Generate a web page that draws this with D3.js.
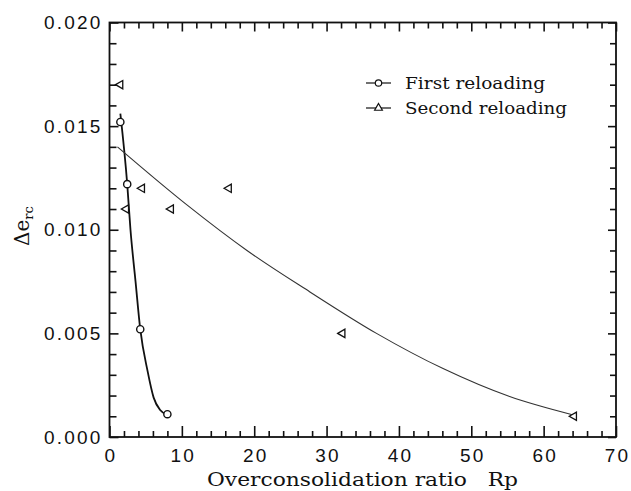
<!DOCTYPE html>
<html>
<head>
<meta charset="utf-8">
<script src="https://cdn.jsdelivr.net/npm/d3@7"></script>
<style>
  html, body { margin: 0; padding: 0; background: #fff; }
  svg { display: block; }
  .tick text { font-family: "Liberation Sans", Arial, sans-serif; font-size: 19px; letter-spacing: 2.2px; fill: #111; }
  .serif { font-family: "DejaVu Serif", "Liberation Serif", serif; fill: #111; white-space: pre; }
</style>
</head>
<body>
<svg id="chart" width="631" height="491"></svg>
<script>
// Measured points, first reloading (circles)
const firstRp = [1.5, 2.45, 4.25, 8.0];
const firstDe = [0.0152, 0.0122, 0.0052, 0.0011];

// Measured points, second reloading (triangles)
const secondRp = [1.5, 2.3, 4.5, 8.5, 16.5, 32.2, 64.2];
const secondDe = [0.0170, 0.0110, 0.0120, 0.0110, 0.0120, 0.0050, 0.0010];

// Fitted trend lines as sampled along the plotted curves
const firstFitRp = [1.5, 2.45, 2.9, 3.6, 4.25, 5.25, 6.1, 7.0, 7.9];
const firstFitDe = [0.0156, 0.0122, 0.0100, 0.0075, 0.0052, 0.0032, 0.0019, 0.0013, 0.00108];
const secondFitRp = [1.1, 10.7, 19.0, 27.7, 36.9, 46.1, 55.3, 64.1];
const secondFitDe = [0.0140, 0.0112, 0.0090, 0.0070, 0.0050, 0.0033, 0.00195, 0.00106];

// Axis ticks
const xMajor = [0, 10, 20, 30, 40, 50, 60, 70];
const yMajor = [0.000, 0.005, 0.010, 0.015, 0.020];
const legendLabels = ["First reloading", "Second reloading"];

const svg = d3.select("#chart");
const m = { left: 109.5, right: 616, top: 22.5, bottom: 437 };

const x = d3.scaleLinear().domain([0, 70]).range([m.left, m.right]);
const y = d3.scaleLinear().domain([0, 0.020]).range([m.bottom, m.top]);

const xMinor = d3.range(0, 70.001, 2);
const yMinor = d3.range(0, 0.02001, 0.001).map(v => +v.toFixed(3));
const isMajorX = v => xMajor.includes(v);
const isMajorY = v => yMajor.some(t => Math.abs(t - v) < 1e-9);

function styleAxis(g, majorTest, minorLen, majorLen, sign) {
  g.select(".domain").remove();
  g.selectAll(".tick line")
    .attr("stroke", "#111")
    .attr("stroke-width", 1.6)
    .each(function(d) {
      const len = (majorTest(d) ? majorLen : minorLen) * sign;
      const el = d3.select(this);
      if (el.attr("y2") !== null) el.attr("y2", len);
      else el.attr("x2", len);
    });
}

// Bottom axis with labels
const gx = svg.append("g").attr("transform", `translate(0,${m.bottom})`)
  .call(d3.axisBottom(x).tickValues(xMinor).tickSize(0).tickPadding(7)
        .tickFormat(d => isMajorX(d) ? d3.format("d")(d) : ""));
gx.selectAll(".tick line").attr("y2", 1);
styleAxis(gx, isMajorX, 6, 11, -1);
gx.selectAll(".tick text").attr("dy", "0.95em").attr("dx", 1);

// Top axis, ticks only
const gxt = svg.append("g").attr("transform", `translate(0,${m.top})`)
  .call(d3.axisTop(x).tickValues(xMinor).tickSize(0).tickFormat(""));
gxt.selectAll(".tick line").attr("y2", 1);
styleAxis(gxt, isMajorX, 6, 9, 1);

// Left axis with labels
const gy = svg.append("g").attr("transform", `translate(${m.left},0)`)
  .call(d3.axisLeft(y).tickValues(yMinor).tickSize(0).tickPadding(7)
        .tickFormat(d => isMajorY(d) ? d3.format(".3f")(d) : ""));
gy.selectAll(".tick line").attr("x2", 1);
styleAxis(gy, isMajorY, 7, 9, 1);

// Right axis, ticks only
const gyr = svg.append("g").attr("transform", `translate(${m.right},0)`)
  .call(d3.axisRight(y).tickValues(yMinor).tickSize(0).tickFormat(""));
gyr.selectAll(".tick line").attr("x2", 1);
styleAxis(gyr, isMajorY, 6, 8, -1);

// Frame
svg.append("rect")
  .attr("x", m.left).attr("y", m.top)
  .attr("width", m.right - m.left).attr("height", m.bottom - m.top)
  .attr("fill", "none").attr("stroke", "#111").attr("stroke-width", 1.8);

// Trend lines
const line = d3.line().x(d => x(d[0])).y(d => y(d[1])).curve(d3.curveMonotoneX);
svg.append("path")
  .datum(firstFitRp.map((r, i) => [r, firstFitDe[i]]))
  .attr("d", line).attr("fill", "none").attr("stroke", "#111").attr("stroke-width", 1.8);
svg.append("path")
  .datum(secondFitRp.map((r, i) => [r, secondFitDe[i]]))
  .attr("d", line).attr("fill", "none").attr("stroke", "#333").attr("stroke-width", 1.1);

// Circles
svg.append("g").selectAll("circle")
  .data(firstRp.map((r, i) => [r, firstDe[i]]))
  .join("circle")
  .attr("cx", d => x(d[0])).attr("cy", d => y(d[1])).attr("r", 3.6)
  .attr("fill", "#fff").attr("stroke", "#111").attr("stroke-width", 1.4);

// Left-pointing triangles
const tri = d3.symbol().type(d3.symbolTriangle).size(30);
svg.append("g").selectAll("path")
  .data(secondRp.map((r, i) => [r, secondDe[i]]))
  .join("path")
  .attr("d", tri)
  .attr("transform", d => `translate(${x(d[0])},${y(d[1])}) rotate(-90)`)
  .attr("fill", "#fff").attr("stroke", "#111").attr("stroke-width", 1.3);

// Legend
const lg = svg.append("g");
const legendRows = [{ y: 83, sym: "circle" }, { y: 108, sym: "triangle" }];
legendRows.forEach((row, i) => {
  lg.append("line").attr("x1", 366).attr("x2", 391).attr("y1", row.y).attr("y2", row.y)
    .attr("stroke", "#111").attr("stroke-width", 1.2);
  if (row.sym === "circle") {
    lg.append("circle").attr("cx", 378.5).attr("cy", row.y).attr("r", 3.2)
      .attr("fill", "#fff").attr("stroke", "#111").attr("stroke-width", 1.2);
  } else {
    lg.append("path").attr("d", d3.symbol().type(d3.symbolTriangle).size(26))
      .attr("transform", `translate(378.5,${row.y})`)
      .attr("fill", "#fff").attr("stroke", "#111").attr("stroke-width", 1.2);
  }
  lg.append("text").attr("class", "serif")
    .attr("x", 405).attr("y", row.y + 6)
    .attr("font-size", 17)
    .attr("textLength", i === 0 ? 140 : 162).attr("lengthAdjust", "spacingAndGlyphs")
    .text(legendLabels[i]);
});

// Axis titles
svg.append("text").attr("class", "serif")
  .attr("x", 207).attr("y", 486)
  .attr("font-size", 18)
  .attr("textLength", 311).attr("lengthAdjust", "spacingAndGlyphs")
  .text("Overconsolidation ratio   Rp");

const yt = svg.append("text").attr("class", "serif")
  .attr("transform", "translate(29,246) rotate(-90)")
  .attr("font-size", 20);
yt.append("tspan").text("Δe");
yt.append("tspan").attr("font-size", 13).attr("dy", 4).text("rc");
</script>
</body>
</html>
